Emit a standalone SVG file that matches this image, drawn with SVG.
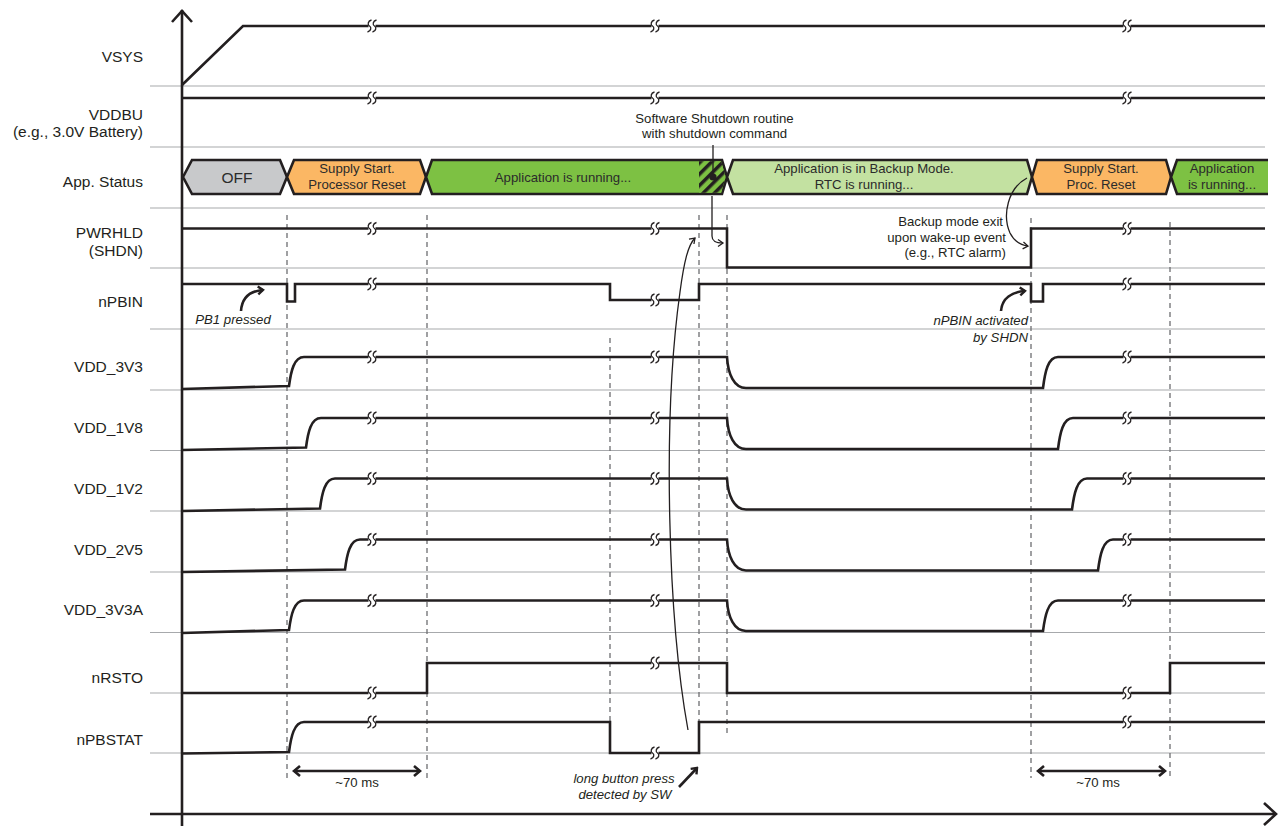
<svg xmlns="http://www.w3.org/2000/svg" width="1280" height="826" viewBox="0 0 1280 826">
<defs>
<style>
.lbl{font-family:"Liberation Sans",Arial,sans-serif;font-size:15.5px;fill:#231F20;text-anchor:end}
.bt{font-family:"Liberation Sans",Arial,sans-serif;font-size:13.2px;fill:#2b2b2b;text-anchor:middle}
.nt{font-family:"Liberation Sans",Arial,sans-serif;font-size:13.2px;fill:#231F20}
.it{font-family:"Liberation Sans",Arial,sans-serif;font-size:13.2px;font-style:italic;fill:#231F20}
.grid{stroke:#A7A9AC;stroke-width:1.2;fill:none}
.sig{stroke:#231F20;stroke-width:2.6;fill:none;stroke-linejoin:miter}
.dash{stroke:#6D6E71;stroke-width:1.3;stroke-dasharray:5,4;fill:none}
.box{stroke:#231F20;stroke-width:2.6;stroke-linejoin:miter}
.thin{stroke:#231F20;stroke-width:1.3;fill:none}
.thick{stroke:#231F20;stroke-width:2.6;fill:none}
</style>
<pattern id="hatch" patternUnits="userSpaceOnUse" width="8" height="8" patternTransform="rotate(45)">
<rect width="8" height="8" fill="#7DC143"/>
<rect width="3.5" height="8" fill="#231F20"/>
</pattern>
<marker id="ahT" markerUnits="userSpaceOnUse" viewBox="-8 -6 10 12" refX="0" refY="0" markerWidth="10" markerHeight="12" orient="auto">
<path d="M-5,-4 L0,0 L-5,4" stroke="#231F20" stroke-width="2.4" fill="none"/>
</marker>
<marker id="ahD" markerUnits="userSpaceOnUse" viewBox="-9 -7 11 14" refX="0" refY="0" markerWidth="11" markerHeight="14" orient="auto-start-reverse">
<path d="M-6,-5 L0,0 L-6,5" stroke="#231F20" stroke-width="2.6" fill="none"/>
</marker>
<marker id="ahS" markerUnits="userSpaceOnUse" viewBox="-8 -6 10 12" refX="0" refY="0" markerWidth="10" markerHeight="12" orient="auto">
<path d="M-5,-3.5 L0,0 L-5,3.5" stroke="#231F20" stroke-width="1.3" fill="none"/>
</marker>
<g id="brk">
<rect x="-3.5" y="-3" width="7" height="6" fill="#fff"/>
<path d="M-0.5,-6 C-4.5,-5 -4.5,-1 -2.5,0 C-0.5,1 -0.5,5 -4.5,6 M4.5,-6 C0.5,-5 0.5,-1 2.5,0 C4.5,1 4.5,5 0.5,6" stroke="#231F20" stroke-width="1.3" fill="none"/>
</g>
</defs>
<rect width="1280" height="826" fill="#fff"/>

<g id="grid">
<path class="grid" d="M150,86H1265M150,147H1265M150,208H1265M150,268H1265M150,329H1265M150,390H1265M150,450.5H1265M150,511H1265M150,572H1265M150,632.5H1265M150,693H1265M150,753H1265"/>
</g>

<g id="labels">
<text class="lbl" x="143" y="62">VSYS</text>
<text class="lbl" x="143" y="120">VDDBU</text>
<text class="lbl" x="143" y="137">(e.g., 3.0V Battery)</text>
<text class="lbl" x="143" y="187">App. Status</text>
<text class="lbl" x="143" y="238">PWRHLD</text>
<text class="lbl" x="143" y="256">(SHDN)</text>
<text class="lbl" x="143" y="307">nPBIN</text>
<text class="lbl" x="143" y="372">VDD_3V3</text>
<text class="lbl" x="143" y="433">VDD_1V8</text>
<text class="lbl" x="143" y="494">VDD_1V2</text>
<text class="lbl" x="143" y="555">VDD_2V5</text>
<text class="lbl" x="143" y="615">VDD_3V3A</text>
<text class="lbl" x="143" y="683">nRSTO</text>
<text class="lbl" x="143" y="745">nPBSTAT</text>
</g>

<g id="dashes">
<path class="dash" d="M287,215V778M427,215V778M610,338V722M699,215V722M727,215V735M1031,218V778M1170,222V778"/>
</g>

<g id="status">
<g id="s-off">
<path class="box" fill="#C8C9CB" d="M183,177L192,160L280,160L287,177L280,194L192,194Z"/>
<text class="bt" x="237" y="183" style="font-size:15.5px">OFF</text>
</g>
<g id="s-supply1">
<path class="box" fill="#FBB764" d="M287,177L294,160L420,160L426,177L420,194L294,194Z"/>
<text class="bt" x="357" y="173">Supply Start.</text>
<text class="bt" x="357" y="189">Processor Reset</text>
</g>
<g id="s-run1">
<path class="box" fill="#7DC143" d="M426,177L432,160L722,160L727,177L722,194L432,194Z"/>
<path fill="url(#hatch)" d="M699,161.3L721.2,161.3L725.6,177L721.2,192.7L699,192.7Z"/>
<text class="bt" x="563" y="182">Application is running...</text>
</g>
<g id="s-backup">
<path class="box" fill="#C3E1A1" d="M727,177L733,160L1027,160L1032,177L1027,194L733,194Z"/>
<text class="bt" x="864" y="173">Application is in Backup Mode.</text>
<text class="bt" x="864" y="189">RTC is running...</text>
</g>
<g id="s-supply2">
<path class="box" fill="#FBB764" d="M1032,177L1037,160L1166,160L1171,177L1166,194L1037,194Z"/>
<text class="bt" x="1101" y="173">Supply Start.</text>
<text class="bt" x="1101" y="189">Proc. Reset</text>
</g>
<g id="s-run2">
<path fill="#7DC143" d="M1171,177L1177,160L1268,160L1268,194L1177,194Z"/>
<path class="box" fill="none" d="M1268,160L1177,160L1171,177L1177,194L1268,194"/>
<text class="bt" x="1222" y="173">Application</text>
<text class="bt" x="1222" y="189">is running...</text>
</g>
</g>

<g id="signals">
<path id="vsys" class="sig" d="M182,85L243,26L1265,26"/>
<path id="vddbu" class="sig" d="M182,98L1265,98"/>
<path id="pwrhld" class="sig" d="M182,228.5L727,228.5L727,267.5L1031,267.5L1031,228.5L1265,228.5"/>
<path id="npbin" class="sig" d="M182,284L287,284L287,301.5L295,301.5L295,284L610,284L610,300L699,300L699,284L1031,284L1031,301.5L1043,301.5L1043,284L1265,284"/>
<path id="vdd3v3" class="sig" d="M182,389L289,386C291,371 294,357 304,357L727,357C728,374 734,388 746,388L1043,388C1045,372 1048,357 1058,357L1265,357"/>
<path id="vdd1v8" class="sig" d="M182,450L306,447.5C308,432 311,418 321,418L727,418C728,435 734,449 746,449L1058,449C1060,433 1063,418 1073,418L1265,418"/>
<path id="vdd1v2" class="sig" d="M182,511L320,508.5C322,493 325,478.5 335,478.5L727,478.5C728,495.5 734,509.5 746,509.5L1072,509.5C1074,494 1077,478.5 1087,478.5L1265,478.5"/>
<path id="vdd2v5" class="sig" d="M182,572L345,569.5C347,554 350,539.5 360,539.5L727,539.5C728,556 734,570.5 746,570.5L1098,570.5C1100,555 1103,539.5 1113,539.5L1265,539.5"/>
<path id="vdd3v3a" class="sig" d="M182,633L289,630C291,615 294,600.5 304,600.5L727,600.5C728,617 734,631 746,631L1043,631C1045,616 1048,600.5 1058,600.5L1265,600.5"/>
<path id="nrsto" class="sig" d="M182,693L427,693L427,663L727,663L727,693L1170,693L1170,663L1265,663"/>
<path id="npbstat" class="sig" d="M182,753.5L289,752C291,737 294,722 304,722L610,722L610,753L699,753L699,722L1265,722"/>
</g>

<g id="breaks">
<use href="#brk" x="372" y="26"/><use href="#brk" x="655" y="26"/><use href="#brk" x="1127" y="26"/>
<use href="#brk" x="372" y="98"/><use href="#brk" x="655" y="98"/><use href="#brk" x="1127" y="98"/>
<use href="#brk" x="372" y="228.5"/><use href="#brk" x="655" y="228.5"/><use href="#brk" x="1127" y="228.5"/>
<use href="#brk" x="372" y="284"/><use href="#brk" x="655" y="300"/><use href="#brk" x="1127" y="284"/>
<use href="#brk" x="372" y="357"/><use href="#brk" x="655" y="357"/><use href="#brk" x="1127" y="357"/>
<use href="#brk" x="372" y="418"/><use href="#brk" x="655" y="418"/><use href="#brk" x="1127" y="418"/>
<use href="#brk" x="372" y="478.5"/><use href="#brk" x="655" y="478.5"/><use href="#brk" x="1127" y="478.5"/>
<use href="#brk" x="372" y="539.5"/><use href="#brk" x="655" y="539.5"/><use href="#brk" x="1127" y="539.5"/>
<use href="#brk" x="372" y="600.5"/><use href="#brk" x="655" y="600.5"/><use href="#brk" x="1127" y="600.5"/>
<use href="#brk" x="372" y="693"/><use href="#brk" x="655" y="663"/><use href="#brk" x="1127" y="693"/>
<use href="#brk" x="372" y="722"/><use href="#brk" x="655" y="753"/><use href="#brk" x="1127" y="722"/>
</g>

<g id="axes">
<path class="sig" d="M182,10V826" stroke-width="3"/>
<path class="sig" d="M172,22L182,11L192,22" stroke-width="3.2"/>
<path class="sig" d="M150,814H1275" stroke-width="3"/>
<path class="sig" d="M1264,803L1276,814L1264,825" stroke-width="3.2"/>
</g>

<g id="connectors">
<path class="thin" d="M713,145V177"/>
<circle cx="713" cy="177" r="3.6" fill="#231F20"/>
<path class="thin" marker-end="url(#ahS)" d="M712,196L712,236C712,241 715,243 723,243"/>
<path class="thin" marker-end="url(#ahS)" d="M688,730C668,620 662,420 680,292C684,262 688,245 695,238"/>
<path class="thin" marker-end="url(#ahS)" d="M1027,178C1008,188 1002,215 1010,233C1014,241 1020,245 1028,246"/>
<path class="thick" marker-end="url(#ahT)" d="M241,311C242,298 250,291 263,290"/>
<path class="thick" marker-end="url(#ahT)" d="M1001,311C1002,298 1012,292 1025,291"/>
<path class="thick" marker-end="url(#ahT)" d="M679,787L697,768"/>
<path class="thick" marker-start="url(#ahD)" marker-end="url(#ahD)" d="M294,771H420"/>
<path class="thick" marker-start="url(#ahD)" marker-end="url(#ahD)" d="M1038,771H1165"/>
</g>

<g id="annotations">
<text class="nt" x="714.5" y="123" text-anchor="middle">Software Shutdown routine</text>
<text class="nt" x="714.5" y="138" text-anchor="middle">with shutdown command</text>
<text class="nt" x="1003" y="226" text-anchor="end">Backup mode exit</text>
<text class="nt" x="1006" y="242" text-anchor="end">upon wake-up event</text>
<text class="nt" x="1006" y="257" text-anchor="end">(e.g., RTC alarm)</text>
<text class="it" x="233" y="324" text-anchor="middle">PB1 pressed</text>
<text class="it" x="1028" y="325" text-anchor="end">nPBIN activated</text>
<text class="it" x="1028" y="342" text-anchor="end">by SHDN</text>
<text class="it" x="624" y="783" text-anchor="middle">long button press</text>
<text class="it" x="625" y="799" text-anchor="middle">detected by SW</text>
<text class="nt" x="357" y="787" text-anchor="middle">~70 ms</text>
<text class="nt" x="1098" y="787" text-anchor="middle">~70 ms</text>
</g>
</svg>
